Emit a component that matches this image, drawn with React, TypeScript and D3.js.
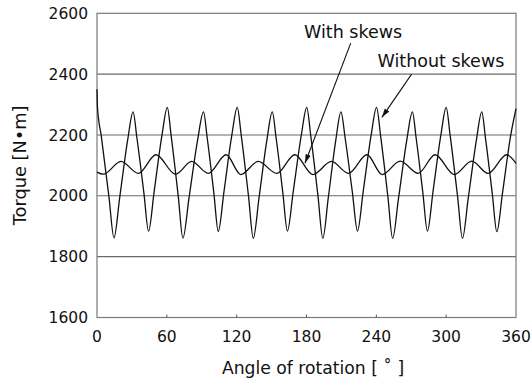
import React, { useMemo } from "react";
import * as d3 from "d3";

// plot box inside the 531x382 page
const box = { left: 97, right: 516, top: 13.3, bottom: 317.5 };
const W = 531;
const H = 382;

// tick labels
const xTicks = [0, 60, 120, 180, 240, 300, 360];
const yTicks = [1600, 1800, 2000, 2200, 2400, 2600];

// without skews (big ripple)
const noSkewAngle = [
  0, 0.4, 3.65, 10.2, 14.6, 19.5, 26.4, 31, 34.3, 40.3, 44.3, 49.1, 55.9,
  60.4, 63.75, 69.8, 73.8, 79.1, 86.5, 91.5, 94.7, 100.4, 104.2, 109.1, 115.9,
  120.5, 124, 130.2, 134.3, 139.2, 146, 150.6, 153.9, 159.7, 163.6, 168.6, 175.6,
  180.2, 183.7, 189.9, 194, 198.7, 205.2, 209.6, 213.2, 219.5, 223.8, 228.7, 235.6,
  240.2, 243.7, 249.9, 254, 259.1, 266.2, 271, 274.2, 280, 283.9, 288.7, 295.5,
  300, 303.5, 309.8, 314, 319, 326, 330.6, 333.8, 339.6, 343.5, 348.5, 355.4, 360,
];
const noSkewTorque = [
  2350, 2291, 2197, 1999, 1862, 1994, 2185, 2276, 2190, 2009, 1884, 2014, 2201,
  2291, 2196, 1999, 1861, 1994, 2185, 2276, 2190, 2009, 1883, 2014, 2201,
  2291, 2196, 1998, 1860, 1993, 2184, 2276, 2190, 2009, 1884, 2014, 2201,
  2291, 2196, 1998, 1860, 1993, 2184, 2276, 2190, 2009, 1884, 2014, 2201,
  2291, 2196, 1998, 1860, 1993, 2184, 2276, 2190, 2009, 1884, 2014, 2201,
  2291, 2196, 1998, 1860, 1993, 2184, 2276, 2189, 2008, 1882, 2012, 2198, 2287,
];

// with skews (small ripple)
const skewAngle = [
  0, 5.4, 20.6, 35.5, 50.7, 67.5, 81.3, 95.6, 111, 123.5, 138.5, 154.4, 170,
  185.5, 201.5, 216, 232, 245, 260.5, 276, 290.5, 307, 322, 336, 352, 360,
];
const skewTorque = [
  2078, 2071, 2113, 2074, 2135, 2071, 2113, 2074, 2135, 2070, 2113, 2074, 2135,
  2070, 2113, 2074, 2135, 2070, 2114, 2074, 2135, 2070, 2114, 2074, 2135, 2107,
];

// annotations: label position, arrow start, arrow tip (data units)
const noteText = ["With skews", "Without skews"];
const noteLabel = [[220, 2518], [295.5, 2424]];
const noteFrom = [[218, 2502], [270.3, 2400]];
const noteTo = [[178.7, 2107], [244.8, 2258]];

const FONT = "'DejaVu Sans', Verdana, sans-serif";

const App = () => {
  const x = useMemo(
    () => d3.scaleLinear().domain([0, 360]).range([box.left, box.right]),
    []
  );
  const y = useMemo(
    () => d3.scaleLinear().domain([1600, 2600]).range([box.bottom, box.top]),
    []
  );

  const line = d3
    .line<[number, number]>()
    .x((d) => x(d[0]))
    .y((d) => y(d[1]))
    .curve(d3.curveMonotoneX);

  const noSkew = noSkewAngle.map((a, i) => [a, noSkewTorque[i]] as [number, number]);
  const skew = skewAngle.map((a, i) => [a, skewTorque[i]] as [number, number]);

  return (
    <svg
      width={W}
      height={H}
      style={{ position: "absolute", left: 0, top: 0, background: "#fff" }}
      fontFamily={FONT}
    >
      <defs>
        <marker
          id="head"
          viewBox="0 0 10 6"
          refX={10}
          refY={3}
          markerWidth={9}
          markerHeight={6}
          markerUnits="userSpaceOnUse"
          orient="auto"
        >
          <path d="M0,0 L10,3 L0,6 Z" fill="#111" />
        </marker>
      </defs>

      {/* grid */}
      {yTicks.slice(1, -1).map((t) => (
        <line
          key={t}
          x1={box.left}
          x2={box.right}
          y1={y(t)}
          y2={y(t)}
          stroke="#6a6a6a"
          strokeWidth={1.1}
        />
      ))}

      {/* frame */}
      <rect
        x={box.left}
        y={box.top}
        width={box.right - box.left}
        height={box.bottom - box.top}
        fill="none"
        stroke="#7a7a7a"
        strokeWidth={1.2}
      />
      {xTicks.slice(1, -1).map((t) => (
        <line
          key={t}
          x1={x(t)}
          x2={x(t)}
          y1={box.bottom}
          y2={box.bottom - 3}
          stroke="#555"
        />
      ))}

      {/* curves */}
      <path d={line(noSkew) || ""} fill="none" stroke="#111" strokeWidth={1.3} />
      <path d={line(skew) || ""} fill="none" stroke="#111" strokeWidth={1.3} />

      {/* y tick labels */}
      {yTicks.map((t) => (
        <text
          key={t}
          x={box.left - 9}
          y={y(t)}
          dy="0.36em"
          textAnchor="end"
          fontSize={15.5}
          fill="#111"
        >
          {t}
        </text>
      ))}

      {/* x tick labels */}
      {xTicks.map((t) => (
        <text
          key={t}
          x={x(t)}
          y={341.5}
          textAnchor="middle"
          fontSize={15.5}
          fill="#111"
        >
          {t}
        </text>
      ))}

      {/* axis titles */}
      <text x={313} y={374} textAnchor="middle" fontSize={17.2} fill="#111">
        Angle of rotation [ ˚ ]
      </text>
      <text
        transform={`translate(26, ${(box.top + box.bottom) / 2}) rotate(-90)`}
        textAnchor="middle"
        fontSize={17.8}
        fill="#111"
      >
        Torque [N•m]
      </text>

      {/* annotations */}
      {noteText.map((t, i) => (
        <g key={t}>
          <text
            x={x(noteLabel[i][0])}
            y={y(noteLabel[i][1])}
            textAnchor="middle"
            fontSize={17.5}
            fill="#111"
          >
            {t}
          </text>
          <line
            x1={x(noteFrom[i][0])}
            y1={y(noteFrom[i][1])}
            x2={x(noteTo[i][0])}
            y2={y(noteTo[i][1])}
            stroke="#111"
            strokeWidth={1.1}
            markerEnd="url(#head)"
          />
        </g>
      ))}
    </svg>
  );
};

export default App;
